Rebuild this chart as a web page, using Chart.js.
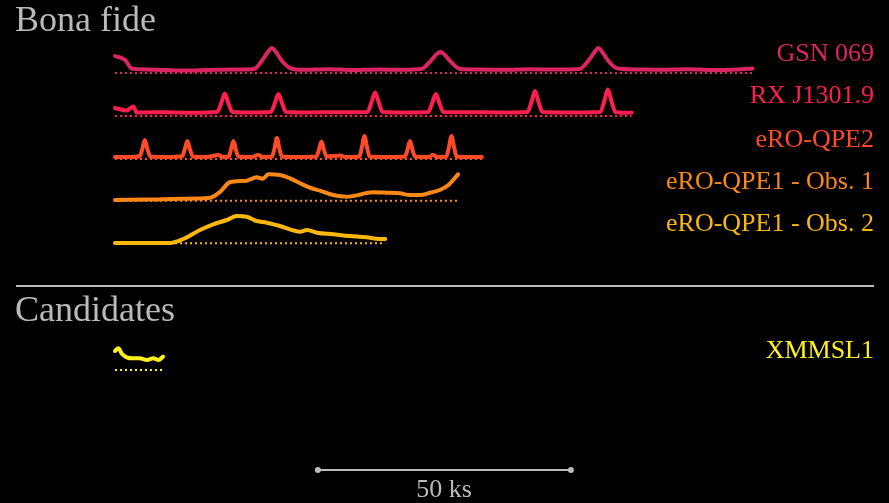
<!DOCTYPE html>
<html>
<head>
<meta charset="utf-8">
<script src="https://cdn.jsdelivr.net/npm/chart.js@4"></script>
<style>
    html, body { margin: 0; padding: 0; background: #000; }
    #wrap { position: relative; width: 889px; height: 503px; overflow: hidden; background: #000; }
    .txt { position: absolute; font-family: "Liberation Serif", serif; line-height: 1; white-space: nowrap; }
</style>
</head>
<body>
<div id="wrap"><canvas id="chart" width="889" height="503"></canvas></div>
<script>
/* Light curves of QPE sources, offset rows, time in ks */

const sources = ['GSN 069', 'RX J1301.9', 'eRO-QPE2', 'eRO-QPE1 - Obs. 1', 'eRO-QPE1 - Obs. 2', 'XMMSL1'];

// time (ks) and normalised rate (arb.) per source
const gsnTime = [0, 2.0, 3.3, 5, 10, 15, 20, 25, 27.5, 29.0, 30.2, 31.0, 31.8, 33.0, 34.8, 37, 42, 47, 52, 57, 60.5, 62.2, 63.6, 64.3, 65.0, 66.4, 68.2, 72, 77, 82, 87, 91.8, 93.5, 94.8, 95.5, 96.3, 97.5, 99.3, 103, 108, 113, 118, 123, 126];
const gsnRate = [1.7, 1.3, 0.45, 0.37, 0.3, 0.25, 0.33, 0.35, 0.4, 1.2, 2.1, 2.5, 2.1, 1.2, 0.45, 0.32, 0.38, 0.3, 0.35, 0.32, 0.4, 1.1, 1.9, 2.1, 1.9, 1.1, 0.4, 0.35, 0.32, 0.38, 0.34, 0.4, 1.2, 2.1, 2.5, 2.1, 1.2, 0.45, 0.36, 0.33, 0.38, 0.3, 0.35, 0.45];

const rxTime = [0, 2.3, 3.6, 4.3, 6, 10, 15, 20.2, 21.0, 21.7, 22.4, 23.2, 27, 30.8, 31.6, 32.3, 33.0, 33.8, 38, 44, 49.9, 50.7, 51.4, 52.1, 52.9, 57, 61.9, 62.7, 63.4, 64.1, 64.9, 70, 76, 81.5, 82.3, 83.0, 83.7, 84.5, 89, 95.9, 96.7, 97.4, 98.1, 98.9, 101, 102.1];
const rxRate = [0.8, 0.55, 0.95, 0.35, 0.35, 0.38, 0.33, 0.4, 1.3, 2.25, 1.3, 0.4, 0.35, 0.4, 1.3, 2.2, 1.3, 0.4, 0.35, 0.38, 0.4, 1.4, 2.35, 1.4, 0.4, 0.35, 0.4, 1.3, 2.2, 1.3, 0.4, 0.38, 0.35, 0.4, 1.4, 2.5, 1.4, 0.4, 0.35, 0.4, 1.5, 2.65, 1.5, 0.4, 0.32, 0.35];

const qpe2Time = [0, 3, 4.9, 5.4, 5.9, 6.4, 7.0, 10, 13.3, 13.8, 14.3, 14.8, 15.4, 18, 20.6, 21.2, 22.5, 22.9, 23.4, 23.9, 24.4, 27, 28.3, 29.2, 31.0, 31.5, 32.0, 32.5, 33.0, 36, 39.8, 40.3, 40.8, 41.3, 41.8, 44.5, 45.5, 48.3, 48.8, 49.3, 49.8, 50.3, 54, 57.3, 57.8, 58.3, 58.8, 59.3, 62, 62.8, 63.8, 65.5, 66.0, 66.5, 67.0, 67.5, 70, 72.5];
const qpe2Rate = [0.2, 0.2, 0.3, 1.0, 1.9, 1.0, 0.25, 0.2, 0.3, 1.0, 1.8, 1.0, 0.25, 0.2, 0.4, 0.2, 0.25, 0.9, 1.8, 0.9, 0.25, 0.2, 0.4, 0.2, 0.25, 1.0, 2.1, 1.0, 0.25, 0.2, 0.25, 0.9, 1.75, 0.9, 0.25, 0.35, 0.2, 0.25, 1.2, 2.3, 1.2, 0.25, 0.2, 0.25, 0.9, 1.8, 0.9, 0.25, 0.2, 0.4, 0.2, 0.25, 1.2, 2.3, 1.2, 0.25, 0.2, 0.2];

const qpe1aTime = [0, 6.9, 12.8, 18.8, 20.8, 22.7, 26.0, 28.0, 29.2, 30.3, 32.6, 34.6, 36.6, 38.5, 40.5, 43.1, 45.8, 47.1, 51.0, 53.7, 56.3, 58.3, 60.3, 62.3, 64.2, 65.9, 67.8];
const qpe1aRate = [0.07, 0.12, 0.2, 0.3, 0.9, 1.84, 2.0, 2.34, 2.2, 2.64, 2.57, 2.24, 1.74, 1.3, 1.0, 0.57, 0.4, 0.47, 0.84, 0.8, 0.74, 0.57, 0.57, 0.8, 1.07, 1.57, 2.64];

const qpe1bTime = [0, 10.9, 13.5, 16.8, 19.4, 22.1, 24.1, 26.0, 28.0, 30.0, 32.6, 36.6, 37.9, 39.9, 43.1, 46.4, 49.7, 51.7, 53.4];
const qpe1bRate = [0.03, 0.03, 0.43, 1.33, 1.9, 2.33, 2.73, 2.66, 2.23, 2.06, 1.73, 1.16, 1.33, 1.06, 0.9, 0.73, 0.6, 0.46, 0.43];

const xmmTime = [0, 0.65, 1.4, 2.3, 3.6, 4.9, 6.3, 7.6, 8.6, 9.5];
const xmmRate = [1.9, 2.17, 1.6, 1.27, 1.17, 1.17, 1.0, 1.17, 1.0, 1.33];

const times = [gsnTime, rxTime, qpe2Time, qpe1aTime, qpe1bTime, xmmTime];
const rates = [gsnRate, rxRate, qpe2Rate, qpe1aRate, qpe1bRate, xmmRate];

// layout
const cores = ['#dc2465', '#ff1e4f', '#ff4b26', '#fb8716', '#fbb80a', '#fff01e'];
const rowBase = [73, 116, 159, 200.7, 243.3, 370];     // baseline of each row (px)
const labelBase = [62, 104, 148, 190, 232, 359];        // text baselines (px)
const PX_PER_UNIT = 10;
const KS_PX = 5.06;
const X0 = 115;
const W = 889, H = 503;
const cinza = '#bababa';

const datasets = [];
sources.forEach((nome, i) => {
    const t = times[i];
    datasets.push({
        label: nome,
        data: t.map((v, k) => ({ x: v, y: rowBase[i] - rates[i][k] * PX_PER_UNIT })),
        borderColor: cores[i],
        borderWidth: 4,
        borderCapStyle: 'round',
        borderJoinStyle: 'round',
        cubicInterpolationMode: 'monotone',
        pointRadius: 0,
        order: 0
    });
    datasets.push({
        label: nome + ' zero',
        data: [{ x: 0, y: rowBase[i] }, { x: t[t.length - 1], y: rowBase[i] }],
        borderColor: cores[i],
        borderWidth: 2,
        borderDash: [2, 3],
        pointRadius: 0,
        order: 1
    });
});

// separator line
datasets.push({
    label: 'sep',
    data: [{ x: (16 - X0) / KS_PX, y: 286 }, { x: (874 - X0) / KS_PX, y: 286 }],
    borderColor: cinza, borderWidth: 2, pointRadius: 0, order: 2
});

// 50 ks scale bar
datasets.push({
    label: 'scale',
    data: [{ x: 40.1, y: 470 }, { x: 90.1, y: 470 }],
    borderColor: cinza, borderWidth: 2,
    pointRadius: 3, pointBackgroundColor: cinza, pointBorderWidth: 0, order: 2
});

new Chart(document.getElementById('chart'), {
    type: 'line',
    data: { datasets: datasets },
    options: {
        responsive: false,
        animation: false,
        devicePixelRatio: 1,
        layout: { padding: 0, autoPadding: false },
        plugins: {
            legend: { display: false },
            tooltip: { enabled: false }
        },
        elements: { line: { fill: false } },
        datasets: { line: { clip: false } },
        scales: {
            x: { type: 'linear', min: -X0 / KS_PX, max: (W - X0) / KS_PX, display: false },
            y: { type: 'linear', min: 0, max: H, reverse: true, display: false }
        }
    }
});

// texts
const wrap = document.getElementById('wrap');
function texto(str, x, baseline, size, color, align) {
    const el = document.createElement('div');
    el.className = 'txt';
    el.textContent = str;
    el.style.fontSize = size + 'px';
    el.style.color = color;
    el.style.top = (baseline - 0.8375 * size) + 'px';
    if (align === 'right') el.style.right = (W - x) + 'px';
    else if (align === 'center') { el.style.left = x + 'px'; el.style.transform = 'translateX(-50%)'; }
    else el.style.left = x + 'px';
    wrap.appendChild(el);
}

texto('Bona fide', 15, 31, 36, cinza, 'left');
texto('Candidates', 15, 321, 36, cinza, 'left');
sources.forEach((nome, i) => texto(nome, 874, labelBase[i], 26, cores[i], 'right'));
texto('50 ks', 444, 498, 26, cinza, 'center');
</script>
</body>
</html>
